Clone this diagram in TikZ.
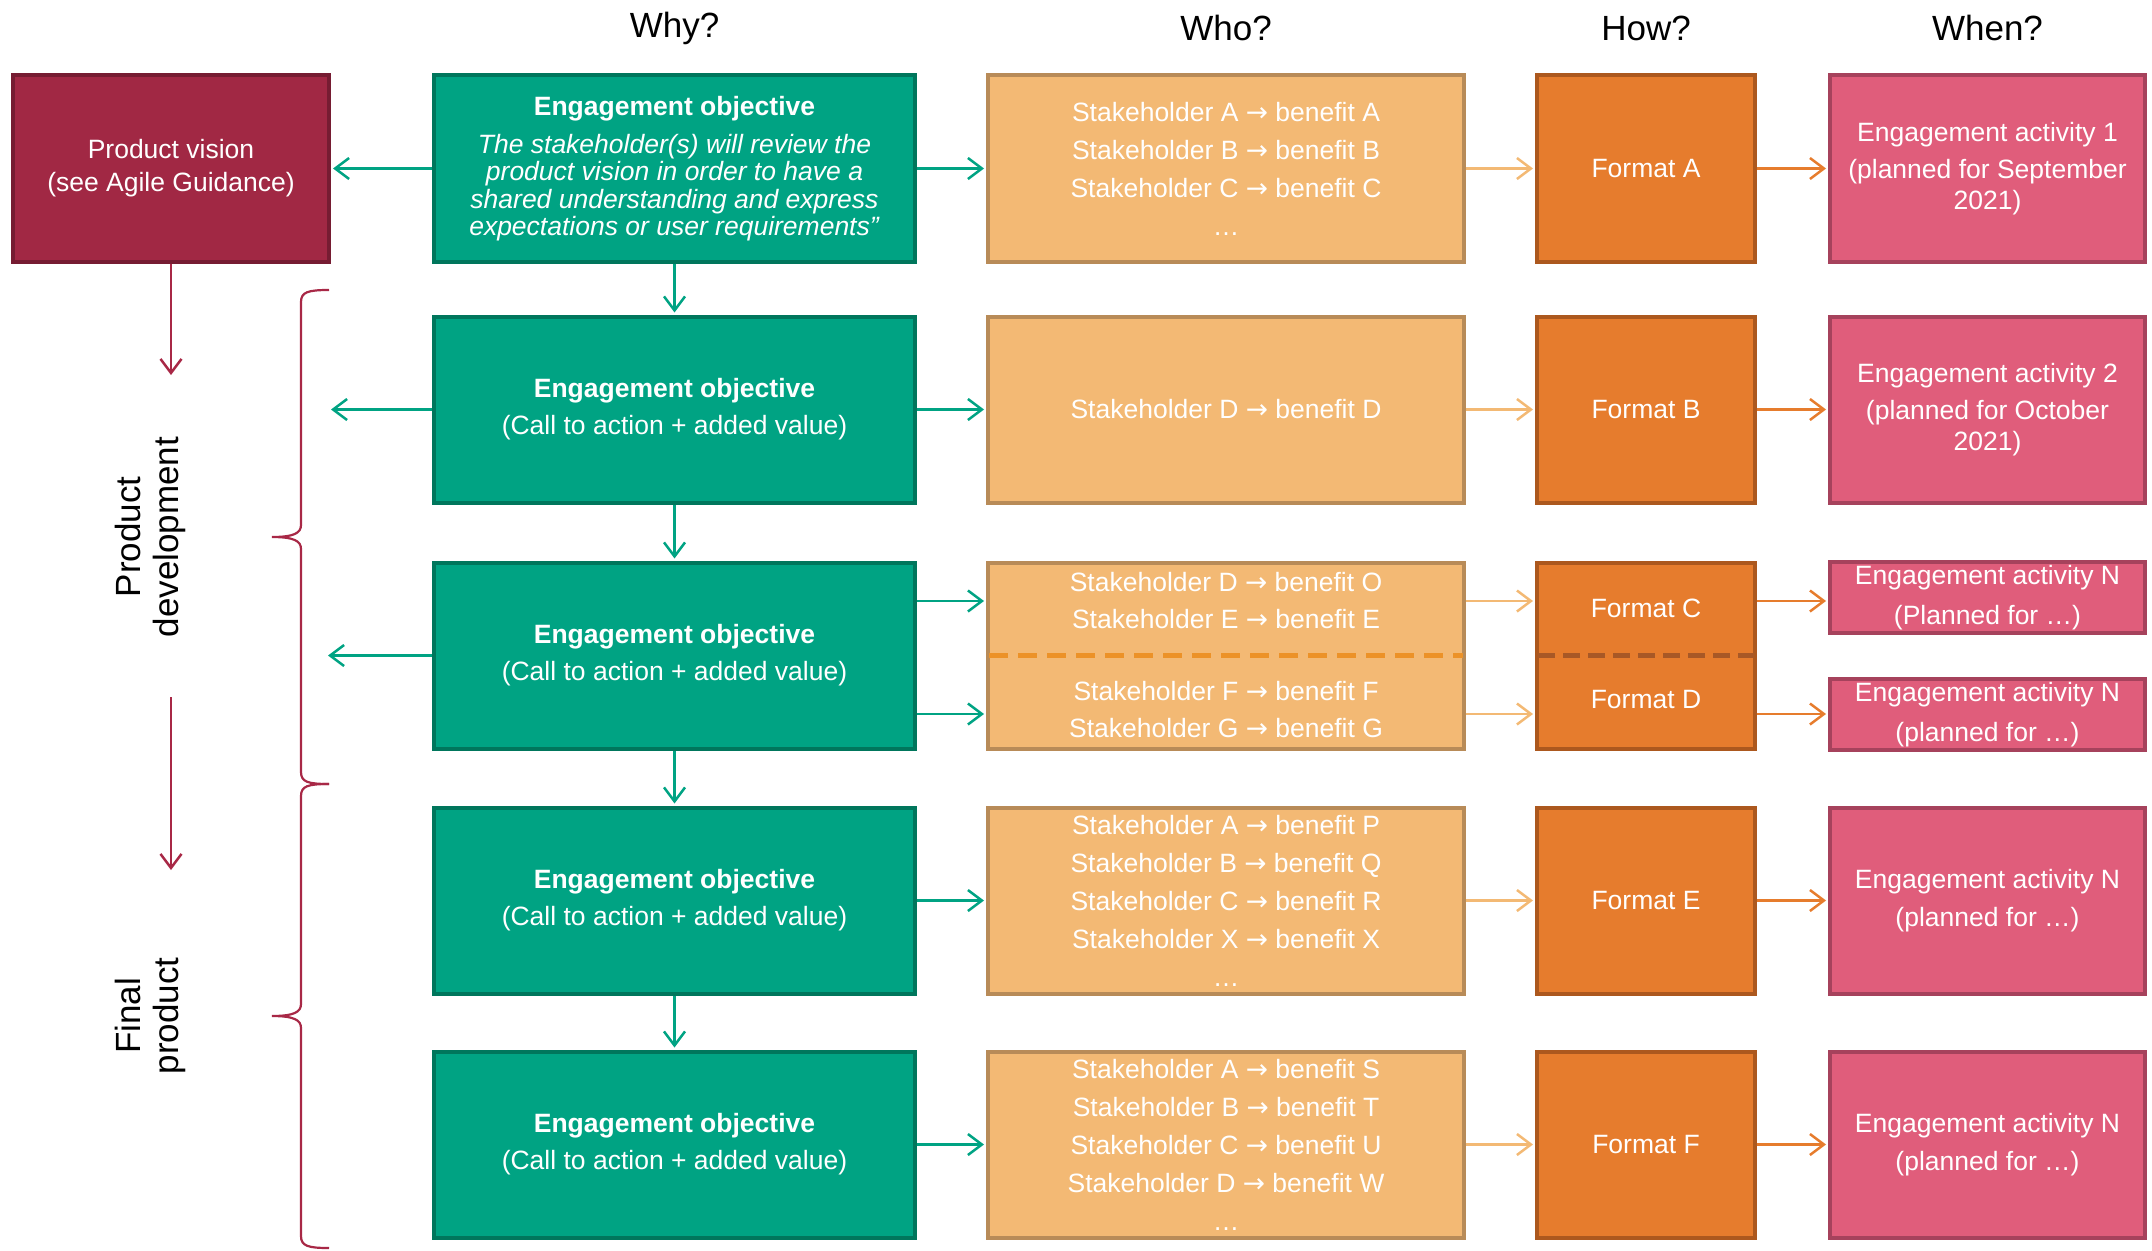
\documentclass[tikz,border=0pt]{standalone}
\usepackage{fontspec}
\setmainfont{Liberation Sans}
\newfontfamily\arrowfont{DejaVu Sans}
\usetikzlibrary{arrows.meta}
\definecolor{pvfill}{RGB}{161,40,68}
\definecolor{pvdraw}{RGB}{118,28,50}
\definecolor{gfill}{RGB}{0,163,131}
\definecolor{gdraw}{RGB}{0,118,92}
\definecolor{lofill}{RGB}{243,185,116}
\definecolor{lodraw}{RGB}{184,139,88}
\definecolor{ffill}{RGB}{230,124,45}
\definecolor{fdraw}{RGB}{172,88,30}
\definecolor{pfill}{RGB}{224,93,123}
\definecolor{pdraw}{RGB}{166,66,92}
\definecolor{dashA}{RGB}{236,146,40}
\definecolor{dashB}{RGB}{168,88,38}
\definecolor{crim}{RGB}{168,40,70}
\newcommand\bodyfs[1]{\fontsize{26.5}{#1}\selectfont}
\newcommand\ra{{\arrowfont →}}
\tikzset{
  boxbase/.style={draw, line width=4pt, inner sep=0pt, align=center, text=white},
  pvbox/.style={boxbase, fill=pvfill, draw=pvdraw, minimum width=316pt, minimum height=187pt, font=\bodyfs{33}},
  gbox/.style={boxbase, fill=gfill, draw=gdraw, minimum width=481pt, minimum height=186pt, font=\bodyfs{37}},
  lobox/.style={boxbase, fill=lofill, draw=lodraw, minimum width=476pt, minimum height=186pt, font=\bodyfs{38}},
  fbox/.style={boxbase, fill=ffill, draw=fdraw, minimum width=218pt, minimum height=186pt, font=\bodyfs{38}},
  pbox/.style={boxbase, fill=pfill, draw=pdraw, minimum width=315pt, minimum height=186pt, font=\bodyfs{31}},
  pboxs/.style={boxbase, fill=pfill, draw=pdraw, minimum width=315pt, minimum height=71pt, font=\bodyfs{40}},
  txt/.style={inner sep=0pt, align=center, text=white, font=\bodyfs{37}},
  head/.style={inner sep=0pt, font=\fontsize{35}{38}\selectfont},
  side/.style={inner sep=0pt, align=center, rotate=90, font=\fontsize{35}{38}\selectfont},
  arr/.style={line width=2.5pt, -{Straight Barb[length=14pt,width=21pt]}, shorten >=2pt},
  garr/.style={arr, draw=gfill},
  loarr/.style={arr, draw=lofill},
  farr/.style={arr, draw=ffill},
  carr/.style={arr, draw=crim},
  bracestyle/.style={draw=crim, line width=2.2pt},
}
\begin{document}
\begin{tikzpicture}[x=1pt,y=-1pt]
\useasboundingbox (0,0) rectangle (2152,1250);
% headings
\node[head] (hwhy) at (674.5,28) {Why?};
\node[head] (hwho) at (1226,28) {Who?};
\node[head] (hhow) at (1646,28) {How?};
\node[head] (hwhen) at (1987.5,28) {When?};
% product vision
\node[pvbox] (pv) at (171,168.5) {Product vision\\(see Agile Guidance)};
% row 1
\node[gbox, minimum height=187pt, font=\bodyfs{27.5}] (g1) at (674.5,168.5)
 {\textbf{Engagement objective}\\[10.5pt]
  \textit{The stakeholder(s) will review the}\\
  \textit{product vision in order to have a}\\
  \textit{shared understanding and express}\\
  \textit{expectations or user requirements”}};
\node[lobox, minimum height=187pt] (lo1) at (1226,168.5)
 {Stakeholder A \ra{} benefit A\\Stakeholder B \ra{} benefit B\\Stakeholder C \ra{} benefit C\\\ldots};
\node[fbox, minimum height=187pt] (f1) at (1646,168.5) {Format A};
\node[pbox, minimum height=187pt] (p1) at (1987.5,168.5)
 {Engagement activity 1\\[6pt](planned for September\\2021)};
% row 2
\node[gbox] (g2) at (674.5,409.5) {\textbf{Engagement objective}\\(Call to action + added value)};
\node[lobox] (lo2) at (1226,409.5) {Stakeholder D \ra{} benefit D};
\node[fbox] (f2) at (1646,409.5) {Format B};
\node[pbox] (p2) at (1987.5,409.5) {Engagement activity 2\\[6pt](planned for October\\2021)};
% row 3
\node[gbox] (g3) at (674.5,655.5) {\textbf{Engagement objective}\\(Call to action + added value)};
\node[lobox] (lo3) at (1226,655.5) {};
\node[fbox] (f3) at (1646,655.5) {};
\draw[dashA, line width=5pt, dash pattern=on 19pt off 10pt] ([xshift=3pt]lo3.west) -- ([xshift=-3pt]lo3.east);
\draw[dashB, line width=5pt, dash pattern=on 17pt off 8pt] ([xshift=3pt]f3.west) -- ([xshift=-3pt]f3.east);
\node[txt] (lo3a) at (1226,601) {Stakeholder D \ra{} benefit O\\Stakeholder E \ra{} benefit E};
\node[txt] (lo3b) at (1226,710) {Stakeholder F \ra{} benefit F\\Stakeholder G \ra{} benefit G};
\node[txt] (f3a) at (1646,608) {Format C};
\node[txt] (f3b) at (1646,700) {Format D};
\node[pboxs] (p3a) at (1987.5,597.5) {Engagement activity N\\(Planned for \ldots)};
\node[pboxs] (p3b) at (1987.5,714.5) {Engagement activity N\\(planned for \ldots)};
% row 4
\node[gbox] (g4) at (674.5,900.5) {\textbf{Engagement objective}\\(Call to action + added value)};
\node[lobox] (lo4) at (1226,900.5)
 {Stakeholder A \ra{} benefit P\\Stakeholder B \ra{} benefit Q\\Stakeholder C \ra{} benefit R\\Stakeholder X \ra{} benefit X\\\ldots};
\node[fbox] (f4) at (1646,900.5) {Format E};
\node[pbox, font=\bodyfs{38}] (p4) at (1987.5,900.5) {Engagement activity N\\(planned for \ldots)};
% row 5
\node[gbox] (g5) at (674.5,1144.5) {\textbf{Engagement objective}\\(Call to action + added value)};
\node[lobox] (lo5) at (1226,1144.5)
 {Stakeholder A \ra{} benefit S\\Stakeholder B \ra{} benefit T\\Stakeholder C \ra{} benefit U\\Stakeholder D \ra{} benefit W\\\ldots};
\node[fbox] (f5) at (1646,1144.5) {Format F};
\node[pbox, font=\bodyfs{38}] (p5) at (1987.5,1144.5) {Engagement activity N\\(planned for \ldots)};
% coordinates
\coordinate (ya) at (0,601);
\coordinate (yb) at (0,714);
\coordinate (l2) at (331,409.5);
\coordinate (l3) at (328,655.5);
\coordinate (c1) at (171,375);
\coordinate (c2s) at (171,697);
\coordinate (c2e) at (171,870);
% left arrows
\draw[garr] (g1.west) -- (pv.east);
\draw[garr, shorten >=0pt] (g2.west) -- (l2);
\draw[garr, shorten >=0pt] (g3.west) -- (l3);
% down arrows
\draw[garr] (g1.south) -- (g2.north);
\draw[garr] (g2.south) -- (g3.north);
\draw[garr] (g3.south) -- (g4.north);
\draw[garr] (g4.south) -- (g5.north);
% right arrows
\foreach \r in {1,2,4,5}{
  \draw[garr] (g\r.east) -- (lo\r.west);
  \draw[loarr] (lo\r.east) -- (f\r.west);
  \draw[farr] (f\r.east) -- (p\r.west);
}
\draw[garr] (g3.east |- ya) -- (lo3.west |- ya);
\draw[garr] (g3.east |- yb) -- (lo3.west |- yb);
\draw[loarr] (lo3.east |- ya) -- (f3.west |- ya);
\draw[loarr] (lo3.east |- yb) -- (f3.west |- yb);
\draw[farr] (f3.east |- ya) -- (p3a.west |- ya);
\draw[farr] (f3.east |- yb) -- (p3b.west |- yb);
% crimson arrows
\draw[carr, shorten >=0pt] (pv.south) -- (c1);
\draw[carr, shorten >=0pt] (c2s) -- (c2e);
% braces
\draw[bracestyle] (329,290) .. controls (308,290) and (301,292) .. (301,302) -- (301,525)
  .. controls (301,533) and (294,537) .. (272,537)
  .. controls (294,537) and (301,541) .. (301,549) -- (301,772)
  .. controls (301,782) and (308,784) .. (329,784);
\draw[bracestyle] (329,784) .. controls (308,784) and (301,786) .. (301,796) -- (301,1004)
  .. controls (301,1012) and (294,1016) .. (272,1016)
  .. controls (294,1016) and (301,1020) .. (301,1028) -- (301,1236)
  .. controls (301,1246) and (308,1248) .. (329,1248);
% side labels
\node[side] (sdev) at (150,537) {Product\\development};
\node[side] (sfin) at (150,1016) {Final\\product};
\end{tikzpicture}
\end{document}
